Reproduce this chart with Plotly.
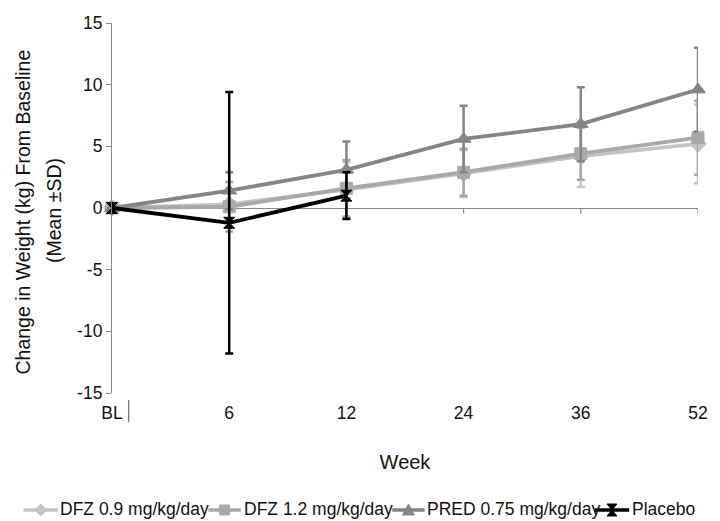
import plotly.graph_objects as go

weeks = ["BL", "6", "12", "24", "36", "52"]
xpos = [0, 1, 2, 3, 4, 5]

dfz09_mean = [0, 0.3, 1.5, 2.8, 4.2, 5.2]
dfz09_sd = [0, 1.8, 2.2, 1.9, 2.5, 3.2]
dfz12_mean = [0, 0.1, 1.6, 2.9, 4.4, 5.7]
dfz12_sd = [0, 2.0, 2.3, 1.9, 2.1, 3.0]
pred_mean = [0, 1.4, 3.1, 5.6, 6.8, 9.6]
pred_sd = [0, 1.5, 2.3, 2.7, 3.0, 3.4]
plc_x = [0, 1, 2]
plc_mean = [0, -1.2, 1.0]
plc_sd = [0, 10.6, 1.9]

ytick_vals = [-15, -10, -5, 0, 5, 10, 15]
ytick_text = ["-15", "-10", "-5", "0", "5", "10", "15"]

series = [
    ("DFZ 0.9 mg/kg/day", xpos, dfz09_mean, dfz09_sd, "#c4c4c4", "diamond", 13),
    ("DFZ 1.2 mg/kg/day", xpos, dfz12_mean, dfz12_sd, "#a9a9a9", "square", 12),
    ("PRED 0.75 mg/kg/day", xpos, pred_mean, pred_sd, "#858585", "triangle-up", 13),
    ("Placebo", plc_x, plc_mean, plc_sd, "#000000", "hourglass", 11),
]

W, H = 720, 521
PL, PR, PT, PB = 112, 708, 23, 393
def px(sx):
    return (sx - PL) / (PR - PL)
def py(sy):
    return (PB - sy) / (PB - PT)

def glyph_path(sym, cx, cy):
    if sym == "diamond":
        pts = [(cx, cy - 6), (cx + 6, cy), (cx, cy + 6), (cx - 6, cy)]
    elif sym == "square":
        pts = [(cx - 5, cy - 5), (cx + 5, cy - 5), (cx + 5, cy + 5), (cx - 5, cy + 5)]
    elif sym == "triangle-up":
        pts = [(cx, cy - 6), (cx + 6, cy + 5), (cx - 6, cy + 5)]
    else:  # hourglass
        pts = [(cx - 5, cy - 6), (cx + 5, cy - 6), (cx - 5, cy + 6), (cx + 5, cy + 6)]
    return "M " + " L ".join(f"{px(a):.5f},{py(b):.5f}" for a, b in pts) + " Z"

fig = go.Figure()
for name, xs, m, sd, col, sym, sz in series:
    fig.add_trace(go.Scatter(
        x=xs, y=m, name=name, mode="lines+markers", showlegend=False,
        line=dict(color=col, width=3.8),
        marker=dict(symbol=sym, size=sz, color=col, line=dict(color=col, width=1)),
        error_y=dict(type="data", array=sd, visible=True, color=col, thickness=2.5, width=4),
        cliponaxis=False,
    ))

# small tick marks crossing the zero line at categories
for xv in xpos[1:]:
    fig.add_shape(type="line", x0=xv, x1=xv, y0=0, y1=-0.45, xref="x", yref="y",
                  line=dict(color="#888888", width=1.2), layer="below")

# stray tick next to the BL label (as in the reference)
fig.add_shape(type="line", xref="paper", yref="paper", x0=px(129), x1=px(129),
              y0=py(400), y1=py(422), line=dict(color="#555555", width=1))

# manual one-row legend below the chart
legend_items = [(22, 57, 58), (210, 243, 245), (397, 430, 431), (603, 638, 640)]
leg_y = 510
for (x0, x1, tx), (name, xs, m, sd, col, sym, sz) in zip(legend_items, series):
    fig.add_shape(type="line", xref="paper", yref="paper", x0=px(x0), x1=px(x1),
                  y0=py(leg_y), y1=py(leg_y), line=dict(color=col, width=3.5))
    fig.add_shape(type="path", xref="paper", yref="paper",
                  path=glyph_path(sym, (x0 + x1) / 2, leg_y),
                  fillcolor=col, line=dict(color=col, width=1))
    fig.add_annotation(text=name, xref="paper", yref="paper", x=px(tx), y=py(leg_y - 1),
                       xanchor="left", yanchor="middle", showarrow=False,
                       font=dict(size=17.5, color="#111111"), borderpad=0)

# y-axis title as two annotations (wide line spacing as in the reference)
fig.add_annotation(text="Change in Weight (kg) From Baseline", xref="paper", yref="paper",
                   x=px(21), y=py(212), textangle=-90, showarrow=False,
                   xanchor="center", yanchor="middle", font=dict(size=19.5, color="#111111"))
fig.add_annotation(text="(Mean \u00b1SD)", xref="paper", yref="paper",
                   x=px(53), y=py(210), textangle=-90, showarrow=False,
                   xanchor="center", yanchor="middle", font=dict(size=19.5, color="#111111"))

fig.update_layout(
    width=W, height=H,
    paper_bgcolor="white", plot_bgcolor="white",
    margin=dict(l=PL, r=W - PR, t=PT, b=H - PB),
    font=dict(family="Liberation Sans, Arial, sans-serif", color="#111111", size=16),
    showlegend=False,
    xaxis=dict(
        range=[0, 5.0], tickmode="array", tickvals=xpos, ticktext=weeks,
        showline=False, showgrid=False, zeroline=False, ticks="",
        ticklabelstandoff=7, tickfont=dict(size=17.5),
        title=dict(text="Week", font=dict(size=20), standoff=33),
    ),
    yaxis=dict(
        range=[-15, 15], tickmode="array", tickvals=ytick_vals, ticktext=ytick_text,
        showgrid=False, showline=True, linecolor="#888888", linewidth=1.2,
        ticks="outside", ticklen=5, tickcolor="#888888", tickfont=dict(size=17.5),
        zeroline=True, zerolinecolor="#888888", zerolinewidth=1.2,
    ),
)

fig.write_html(
    "out.html",
    config={"displayModeBar": False},
    post_script="document.body.style.margin='0';document.body.style.overflow='hidden';",
)
